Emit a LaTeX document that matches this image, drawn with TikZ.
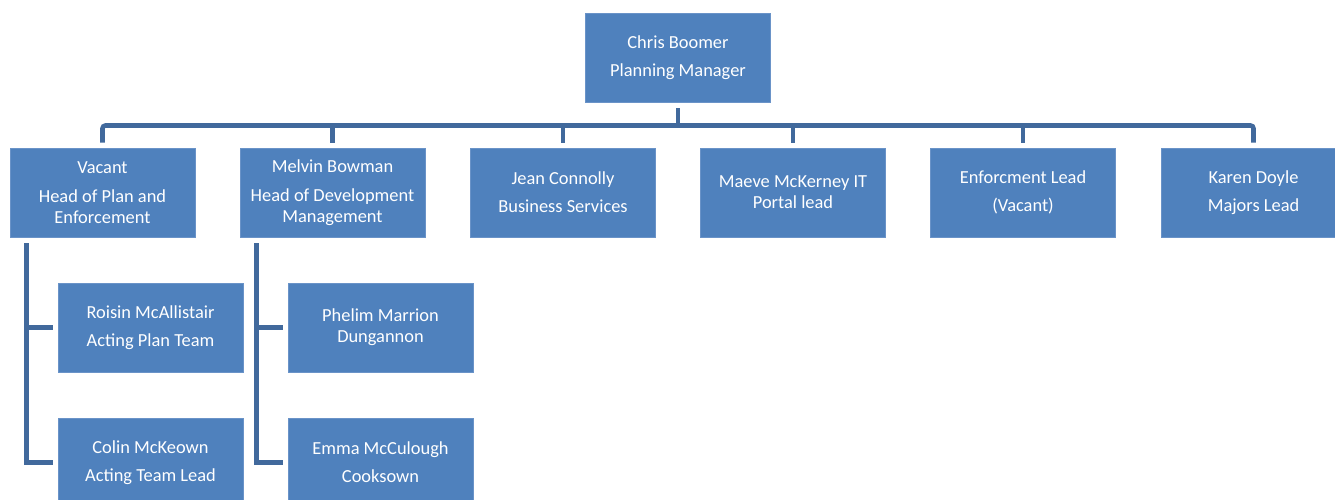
\documentclass[tikz,border=0pt]{standalone}
\usepackage{fontspec}
\setmainfont{Carlito}
\definecolor{boxblue}{HTML}{4F81BD}
\definecolor{boxedge}{HTML}{6A93C8}
\definecolor{linblue}{HTML}{41699C}
\begin{document}
\begin{tikzpicture}[x=1pt,y=-1pt,
  box/.style={fill=boxblue, draw=boxedge, line width=0.8pt, minimum width=185pt, minimum height=89pt,
    text=white, align=center, font=\fontsize{18.4}{21}\selectfont, inner sep=0pt},
  conn/.style={draw=linblue, line width=4.6pt}]
\useasboundingbox (0,0) rectangle (1335,500);
\node[box] (top) at (678,57.5) {Chris Boomer\\[7pt]Planning Manager};
\node[box] (n1) at (102.5,192.5) {Vacant\\[8pt]Head of Plan and\\Enforcement};
\node[box] (n2) at (332.5,192.5) {Melvin Bowman\\[8pt]Head of Development\\Management};
\node[box] (n3) at (563,192.5) {Jean Connolly\\[7pt]Business Services};
\node[box] (n4) at (793,192.5) {Maeve McKerney IT\\Portal lead};
\node[box] (n5) at (1023,192.5) {Enforcment Lead\\[7pt](Vacant)};
\node[box] (n6) at (1253.5,192.5) {Karen Doyle\\[7pt]Majors Lead};
\node[box] (c11) at (150.5,327.5) {Roisin McAllistair\\[7pt]Acting Plan Team};
\node[box] (c12) at (150.5,462.5) {Colin McKeown\\[7pt]Acting Team Lead};
\node[box] (c21) at (380.5,327.5) {Phelim Marrion\\Dungannon};
\node[box] (c22) at (380.5,462.5) {Emma McCulough\\[7pt]Cooksown};
\coordinate (bus) at (678,125.5);
\draw[conn] ([yshift=-6pt]top.south) -- (top.south |- bus);
\draw[conn, rounded corners=3pt] ([yshift=5pt]n1.north) -- (n1.north |- bus) -- (n6.north |- bus) -- ([yshift=5pt]n6.north);
\foreach \n in {n2,n3,n4,n5}{
  \draw[conn] ([yshift=5pt]\n.north) -- (\n.north |- bus);
}
\draw[conn] ([xshift=17pt,yshift=-6pt]n1.south west) |- ([xshift=-5pt]c11.west);
\draw[conn] ([xshift=17pt,yshift=-6pt]n1.south west) |- ([xshift=-5pt]c12.west);
\draw[conn] ([xshift=17pt,yshift=-6pt]n2.south west) |- ([xshift=-5pt]c21.west);
\draw[conn] ([xshift=17pt,yshift=-6pt]n2.south west) |- ([xshift=-5pt]c22.west);
\end{tikzpicture}
\end{document}
